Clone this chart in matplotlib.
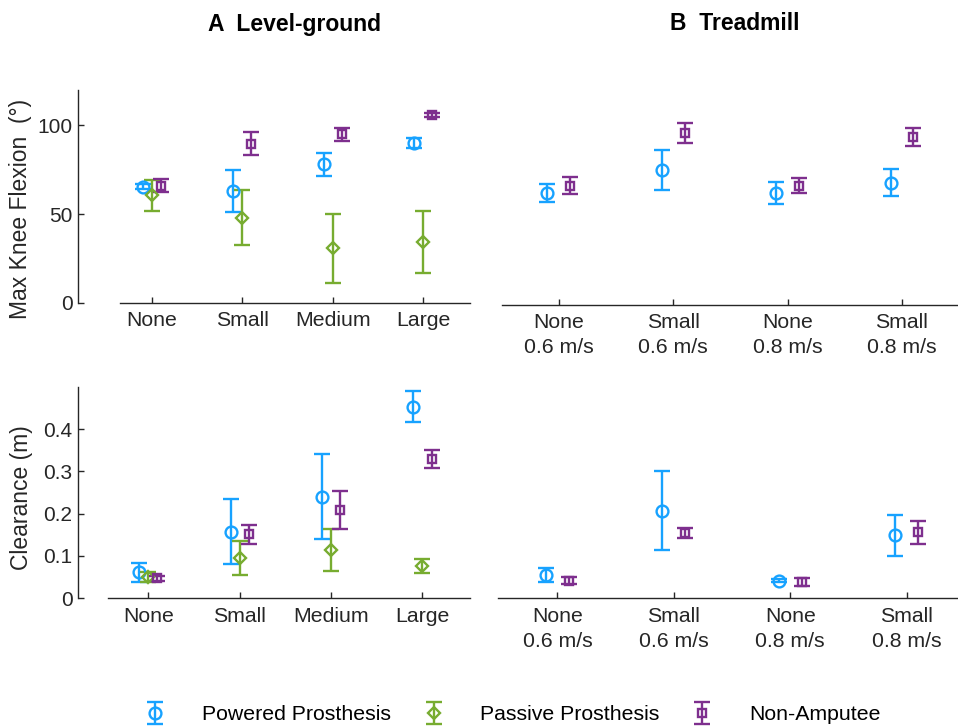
import matplotlib
matplotlib.use("Agg")
import matplotlib.pyplot as plt
import numpy as np

plt.rcParams['font.family'] = ['Liberation Sans', 'DejaVu Sans']

# ---------------- data ----------------
lg_cats = ['None', 'Small', 'Medium', 'Large']
tm_cats = ['None\n0.6 m/s', 'Small\n0.6 m/s', 'None\n0.8 m/s', 'Small\n0.8 m/s']

knee_lg_powered = [65.5, 63.0, 78.0, 90.0]
knee_lg_powered_err = [1.4, 11.8, 6.5, 2.7]
knee_lg_passive = [60.5, 48.0, 30.6, 34.4]
knee_lg_passive_err = [8.7, 15.6, 19.4, 17.5]
knee_lg_nonamp = [66.0, 89.7, 94.9, 106.0]
knee_lg_nonamp_err = [3.8, 6.5, 3.4, 1.3]

knee_tm_powered = [63.3, 76.1, 63.3, 69.1]
knee_tm_powered_err = [5.0, 11.4, 6.2, 7.6]
knee_tm_nonamp = [67.3, 97.0, 67.3, 94.9]
knee_tm_nonamp_err = [4.7, 5.6, 4.3, 5.0]

clr_lg_powered = [0.061, 0.157, 0.240, 0.453]
clr_lg_powered_err = [0.022, 0.077, 0.101, 0.037]
clr_lg_passive = [0.050, 0.096, 0.114, 0.076]
clr_lg_passive_err = [0.011, 0.040, 0.050, 0.016]
clr_lg_nonamp = [0.047, 0.151, 0.209, 0.329]
clr_lg_nonamp_err = [0.006, 0.023, 0.045, 0.021]

clr_tm_powered = [0.055, 0.207, 0.042, 0.149]
clr_tm_powered_err = [0.016, 0.093, 0.004, 0.049]
clr_tm_nonamp = [0.042, 0.154, 0.039, 0.156]
clr_tm_nonamp_err = [0.009, 0.012, 0.010, 0.027]

series_labels = ['Powered Prosthesis', 'Passive Prosthesis', 'Non-Amputee']

# ---------------- style ----------------
C_POW = '#17A2FF'
C_PAS = '#77AC30'
C_NON = '#7E2F8E'
AX_C = '#262626'
LW = 1.7
TICK_FS = 15.3
YTICK_FS = 15
LABEL_FS = 16.5

styles = {
    'pow': dict(color=C_POW, marker='o', ms=8.5),
    'pas': dict(color=C_PAS, marker='D', ms=6.5),
    'non': dict(color=C_NON, marker='s', ms=6),
}


def eb(ax, x, y, e, key):
    s = styles[key]
    return ax.errorbar(x, y, yerr=e, fmt=s['marker'], color=s['color'],
                       ms=s['ms'], mfc='none', mec=s['color'], mew=LW,
                       elinewidth=LW, capsize=6, capthick=LW, zorder=3)


fig = plt.figure(figsize=(9.58, 7.26), dpi=100)


def make_ax(rect, xlim, ylim, xb, show_y):
    ax = fig.add_axes(rect)
    ax.set_xlim(*xlim)
    ax.set_ylim(*ylim)
    ax.spines['top'].set_visible(False)
    ax.spines['right'].set_visible(False)
    for sp in ['left', 'bottom']:
        ax.spines[sp].set_color(AX_C)
        ax.spines[sp].set_linewidth(1.0)
    ax.spines['bottom'].set_bounds(xb[0], xb[1])
    ax.tick_params(axis='both', direction='in', length=4, width=1.0,
                   color=AX_C, labelcolor=AX_C)
    ax.tick_params(axis='x', pad=6, labelsize=TICK_FS)
    ax.tick_params(axis='y', pad=4, labelsize=YTICK_FS)
    if not show_y:
        ax.spines['left'].set_visible(False)
        ax.set_yticks([])
    return ax


W, H = 958.0, 726.0


def rect(x0, x1, ytop, ybot):
    return [x0 / W, 1 - ybot / H, (x1 - x0) / W, (ybot - ytop) / H]


x4 = np.arange(1, 5)
off = 0.1

# A top
ax1 = make_ax(rect(78, 470, 90, 302.7), (0.18, 4.52), (0, 120), (0.646, 4.52), True)
eb(ax1, x4 - off, knee_lg_powered, knee_lg_powered_err, 'pow')
eb(ax1, x4, knee_lg_passive, knee_lg_passive_err, 'pas')
eb(ax1, x4 + off, knee_lg_nonamp, knee_lg_nonamp_err, 'non')
ax1.set_xticks(x4)
ax1.set_xticklabels(lg_cats)
ax1.set_yticks([0, 50, 100])
ax1.set_ylabel('Max Knee Flexion  (°)', fontsize=LABEL_FS, color=AX_C)
ax1.yaxis.set_label_coords(-0.117, 0.44)

# B top
ax2 = make_ax(rect(501.7, 958, 92.3, 305), (0.5, 4.49), (0, 120), (0.5, 4.49), False)
eb(ax2, x4 - off, knee_tm_powered, knee_tm_powered_err, 'pow')
eb(ax2, x4 + off, knee_tm_nonamp, knee_tm_nonamp_err, 'non')
ax2.set_xticks(x4)
ax2.set_xticklabels(tm_cats, linespacing=1.4)

# A bottom
ax3 = make_ax(rect(78, 470, 386.7, 598.3), (0.23, 4.52), (0, 0.5), (0.56, 4.52), True)
eb(ax3, x4 - off, clr_lg_powered, clr_lg_powered_err, 'pow')
h_pas = eb(ax3, x4, clr_lg_passive, clr_lg_passive_err, 'pas')
eb(ax3, x4 + off, clr_lg_nonamp, clr_lg_nonamp_err, 'non')
ax3.set_xticks(x4)
ax3.set_xticklabels(lg_cats)
ax3.set_yticks([0, 0.1, 0.2, 0.3, 0.4])
ax3.set_yticklabels(['0', '0.1', '0.2', '0.3', '0.4'])
ax3.set_ylabel('Clearance (m)', fontsize=LABEL_FS, color=AX_C)
ax3.yaxis.set_label_coords(-0.115, 0.476)

# B bottom
ax4 = make_ax(rect(498, 958, 386.7, 598.3), (0.49, 4.44), (0, 0.5), (0.49, 4.44), False)
h_pow = eb(ax4, x4 - off, clr_tm_powered, clr_tm_powered_err, 'pow')
h_non = eb(ax4, x4 + off, clr_tm_nonamp, clr_tm_nonamp_err, 'non')
ax4.set_xticks(x4)
ax4.set_xticklabels(tm_cats, linespacing=1.4)

# titles
fig.text(294 / W, 1 - 24 / H, 'A  Level-ground', ha='center', va='center',
         fontsize=16.5, fontweight='bold', color='black')
fig.text(735 / W, 1 - 24 / H, 'B  Treadmill', ha='center', va='center',
         fontsize=16.5, fontweight='bold', color='black')

# legend
leg = fig.legend([h_pow, h_pas, h_non], series_labels, loc='center left',
                 bbox_to_anchor=(134 / W, 1 - 715 / H), ncol=3, frameon=False,
                 fontsize=15.3, handlelength=2.0, handletextpad=1.2,
                 columnspacing=1.0, borderpad=0, borderaxespad=0)

fig.savefig('out.png', dpi=100)
